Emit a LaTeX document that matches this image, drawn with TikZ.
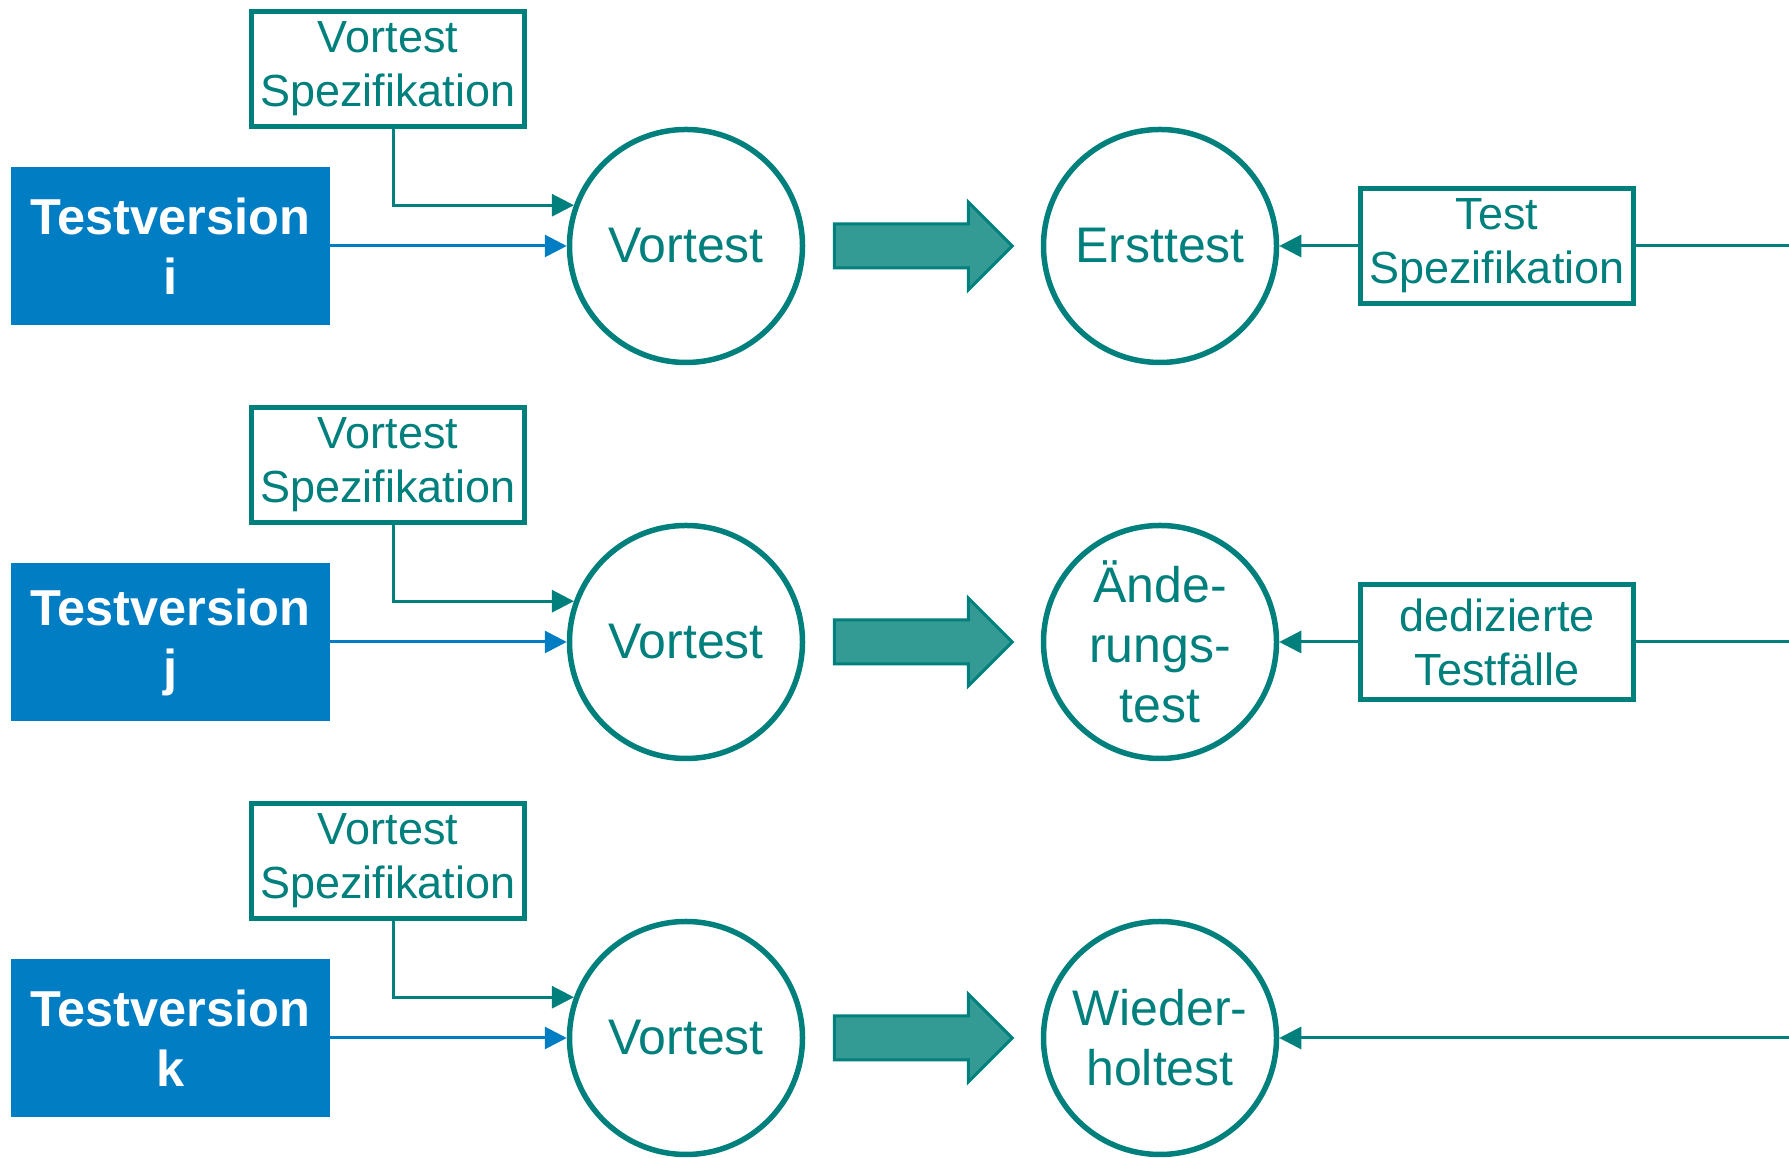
\documentclass[tikz,border=0pt]{standalone}
\usepackage{fontspec}
\setmainfont{Liberation Sans}
\usetikzlibrary{arrows.meta,positioning,calc}

\tikzset{
    versionbox/.style={fill=versionblue, minimum width=319pt, minimum height=158pt, inner sep=0pt,
        align=center, text=white, font=\fontsize{50.5}{60}\selectfont\bfseries},
    specbox/.style={draw=testteal, line width=5pt, minimum width=273pt, minimum height=115pt,
        inner sep=0pt, align=center, text=testteal, font=\fontsize{45}{54}\selectfont},
    testcircle/.style={circle, draw=testteal, line width=5.5pt, minimum size=233pt, inner sep=0pt,
        align=center, text=testteal, font=\fontsize{50}{60}\selectfont},
    tealline/.style={draw=testteal, line width=3pt},
    tealarrow/.style={tealline, -{Triangle[length=22pt,width=22pt]}},
    bluearrow/.style={draw=versionblue, line width=3pt, -{Triangle[length=22pt,width=22pt]}},
    bigarrow/.style={draw=testteal, line width=3pt, fill=arrowteal},
}

\begin{document}
\begin{tikzpicture}[x=1pt, y=1pt]
    \definecolor{testteal}{RGB}{0,128,124}
    \definecolor{arrowteal}{RGB}{52,154,148}
    \definecolor{versionblue}{RGB}{0,125,195}

    \useasboundingbox (0,0) rectangle (1789,1158);

    \foreach \row/\name/\ver/\label in {912/1/i/Ersttest, 516/2/j/{Ände-\\rungs-\\test}, 120/3/k/{Wieder-\\holtest}} {
        \node[versionbox] (tv\name) at (170.5,\row) {Testversion\\\ver};
        \node[specbox] (vs\name) at (388,\row+177) {Vortest\\Spezifikation};
        \node[testcircle] (v\name) at (686,\row) {Vortest};
        \node[testcircle] (t\name) at (1160,\row) {\label};

        \draw[bluearrow] (tv\name.east) -- (v\name.west);
        \draw[tealarrow] ($(vs\name.south)+(5,0)$) |- (v\name.160);

        % block arrow between the two circles
        \draw[bigarrow] ($(v\name.east)+(29,22)$) -- ++(134,0) -- ++(0,22) -- ++(44,-44)
            -- ++(-44,-44) -- ++(0,22) -- ++(-134,0) -- cycle;
    }

    \node[specbox] (ts1) at (1497,912) {Test\\Spezifikation};
    \node[specbox] (ts2) at (1497,516) {dedizierte\\Testfälle};

    \coordinate (rend1) at (1789,912);
    \coordinate (rend2) at (1789,516);
    \coordinate (rend3) at (1789,120);

    \draw[tealarrow] (ts1.west) -- (t1.east);
    \draw[tealline] (ts1.east) -- (rend1);
    \draw[tealarrow] (ts2.west) -- (t2.east);
    \draw[tealline] (ts2.east) -- (rend2);
    \draw[tealarrow] (rend3) -- (t3.east);
\end{tikzpicture}
\end{document}
